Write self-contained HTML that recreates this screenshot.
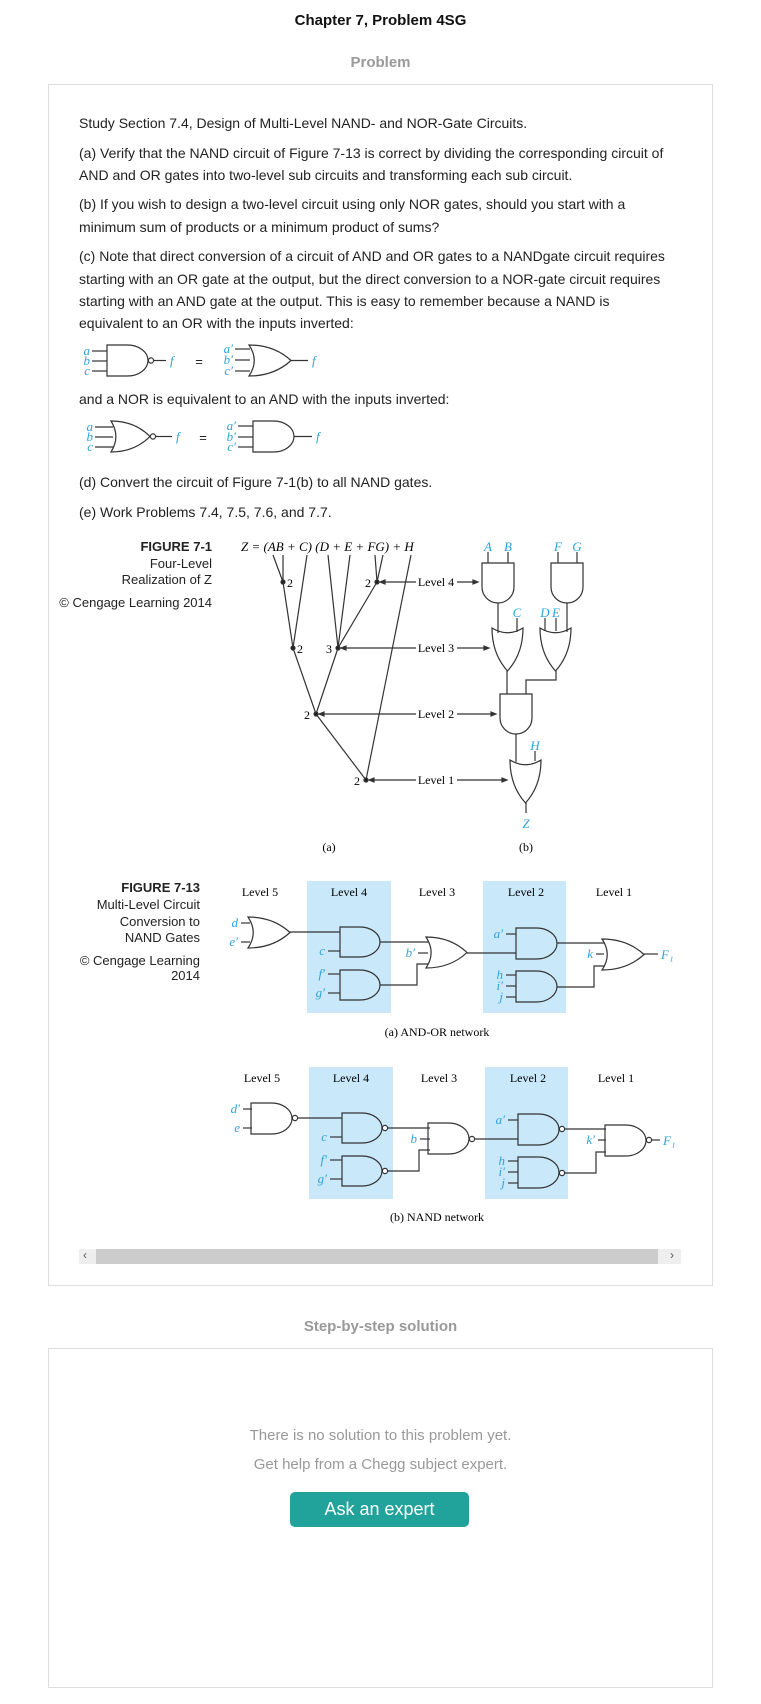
<!DOCTYPE html>
<html><head><meta charset="utf-8">
<style>
body{margin:0;width:761px;height:1704px;background:#fff;position:relative;font-family:"Liberation Sans",sans-serif;overflow:hidden}
.a{position:absolute;white-space:nowrap}
.p{position:absolute;left:79px;font-size:14px;color:#222;white-space:nowrap;line-height:16px}
.box{position:absolute;border:1px solid #ddd;box-sizing:border-box}
svg text{font-family:"Liberation Serif",serif}
.bl{fill:#2ea3dc;font-style:italic;font-size:13px}
.cap{font-family:"Liberation Sans",sans-serif !important;font-size:13px;fill:#222}
</style></head><body>
<div class="a" style="left:0;width:761px;top:12px;text-align:center;font-weight:bold;font-size:15px;color:#111">Chapter 7, Problem 4SG</div>
<div class="a" style="left:0;width:761px;top:54px;text-align:center;font-weight:bold;font-size:15px;color:#999">Problem</div>
<div class="box" style="left:48px;top:84px;width:665px;height:1202px"></div>
<div class="p" style="top:115px">Study Section 7.4, Design of Multi-Level NAND- and NOR-Gate Circuits.</div>
<div class="p" style="top:145px">(a) Verify that the NAND circuit of Figure 7-13 is correct by dividing the corresponding circuit of</div>
<div class="p" style="top:167px">AND and OR gates into two-level sub circuits and transforming each sub circuit.</div>
<div class="p" style="top:196px">(b) If you wish to design a two-level circuit using only NOR gates, should you start with a</div>
<div class="p" style="top:219px">minimum sum of products or a minimum product of sums?</div>
<div class="p" style="top:248px">(c) Note that direct conversion of a circuit of AND and OR gates to a NANDgate circuit requires</div>
<div class="p" style="top:271px">starting with an OR gate at the output, but the direct conversion to a NOR-gate circuit requires</div>
<div class="p" style="top:293px">starting with an AND gate at the output. This is easy to remember because a NAND is</div>
<div class="p" style="top:315px">equivalent to an OR with the inputs inverted:</div>
<div class="p" style="top:391px">and a NOR is equivalent to an AND with the inputs inverted:</div>
<div class="p" style="top:474px">(d) Convert the circuit of Figure 7-1(b) to all NAND gates.</div>
<div class="p" style="top:504px">(e) Work Problems 7.4, 7.5, 7.6, and 7.7.</div>

<svg id="fig" width="761" height="1290" style="position:absolute;left:0;top:0">
<g id="g" fill="none" stroke="#333" stroke-width="1.2"></g>
<g id="t"></g>
</svg>

<div class="a" style="left:79px;top:1249px;width:602px;height:15px;background:#eee"></div>
<div class="a" style="left:96px;top:1249px;width:562px;height:15px;background:#ccc"></div>
<div class="a" style="left:83px;top:1248px;font-size:12px;color:#555">&#8249;</div>
<div class="a" style="left:670px;top:1248px;font-size:12px;color:#555">&#8250;</div>

<div class="a" style="left:0;width:761px;top:1318px;text-align:center;font-weight:bold;font-size:15px;color:#999">Step-by-step solution</div>
<div class="box" style="left:48px;top:1348px;width:665px;height:340px"></div>
<div class="a" style="left:0;width:761px;top:1427px;text-align:center;font-size:15px;color:#999">There is no solution to this problem yet.</div>
<div class="a" style="left:0;width:761px;top:1456px;text-align:center;font-size:15px;color:#999">Get help from a Chegg subject expert.</div>
<div class="a" style="left:290px;top:1492px;width:179px;height:35px;background:#21a29a;border-radius:5px;color:#fff;font-size:18px;text-align:center;line-height:35px">Ask an expert</div>

<script>
var NS='http://www.w3.org/2000/svg',G=document.getElementById('g'),T=document.getElementById('t');
function el(tag,attrs,parent,name){var e=document.createElementNS(NS,tag);for(var k in attrs)e.setAttribute(k,attrs[k]);


(parent||G).appendChild(e);return e;}
function L(pts,name){el('polyline',{points:pts},G,name||'wire');}
function AND(x,y,w,h,n){el('path',{d:'M'+x+' '+y+'H'+(x+w/2)+'A'+(w/2)+' '+(h/2)+' 0 0 1 '+(x+w/2)+' '+(y+h)+'H'+x+'Z'},G,n||'and-gate');}
function OR(x,y,w,h,n){el('path',{d:'M'+x+' '+y+'Q'+(x+w*0.6)+' '+y+' '+(x+w)+' '+(y+h/2)+'Q'+(x+w*0.6)+' '+(y+h)+' '+x+' '+(y+h)+'Q'+(x+w*0.25)+' '+(y+h/2)+' '+x+' '+y+'Z'},G,n||'or-gate');}
function VAND(x,y,w,h,n){el('path',{d:'M'+x+' '+y+'V'+(y+h-w/2)+'A'+(w/2)+' '+(w/2)+' 0 0 0 '+(x+w)+' '+(y+h-w/2)+'V'+y+'Z'},G,n||'and-gate');}
function VOR(x,y,w,h,n){el('path',{d:'M'+x+' '+y+'Q'+(x+w/2)+' '+(y+h*0.22)+' '+(x+w)+' '+y+'Q'+(x+w)+' '+(y+h*0.6)+' '+(x+w/2)+' '+(y+h)+'Q'+x+' '+(y+h*0.6)+' '+x+' '+y+'Z'},G,n||'or-gate');}
function B(x,y){el('circle',{cx:x,cy:y,r:2.6,fill:'#fff'},G,'inversion-bubble');}
function D(x,y){el('circle',{cx:x,cy:y,r:2,fill:'#222'},G,'node-dot');}
function TX(x,y,s,cls,anchor,name,extra){var e=el('text',{x:x,y:y,'class':cls||'','text-anchor':anchor||'start'},T,name||'label');if(extra)for(var k in extra)e.setAttribute(k,extra[k]);e.textContent=s;return e;}
function IN(x,y,len,lab,name){L(x+','+y+' '+(x+len)+','+y);TX(x-2,y+4,lab,'bl','end',name);}

// inline gate equivalences
IN(92,351,15,'a','in-a');IN(92,361,15,'b','in-b');IN(92,371,15,'c','in-c');
AND(107,345,41,31,'nand-gate');B(151,360.5);L('154,360.5 166,360.5');TX(170,365,'f','bl','start','out-f');
TX(199,366,'=','cap','middle','equals',{'font-size':'15'});
IN(235,349,15,"a′",'in-a-prime');IN(235,360,15,"b′",'in-b-prime');IN(235,371,15,"c′",'in-c-prime');
OR(249,345,42,31,'or-gate');L('291,360.5 308,360.5');TX(312,365,'f','bl','start','out-f');
IN(95,427,18,'a','in-a');IN(95,437,18,'b','in-b');IN(95,447,18,'c','in-c');
OR(111,421,39,31,'nor-gate');B(153,436.5);L('156,436.5 172,436.5');TX(176,441,'f','bl','start','out-f');
TX(203,442,'=','cap','middle','equals',{'font-size':'15'});
IN(238,426,15,"a′",'in-a-prime');IN(238,437,15,"b′",'in-b-prime');IN(238,447,15,"c′",'in-c-prime');
AND(253,421,41,31,'and-gate');L('294,436.5 312,436.5');TX(316,441,'f','bl','start','out-f');

// Figure 7-1 caption
var cb={'font-family':'Liberation Sans, sans-serif','font-size':'12.5'};
TX(212,551,'FIGURE 7-1','cap','end','figure-7-1-title',{fill:'#29a8e0','font-weight':'bold'});
TX(212,568,'Four-Level','cap','end','figure-7-1-sub');
TX(212,584,'Realization of Z','cap','end','figure-7-1-sub2');
TX(212,607,'© Cengage Learning 2014','cap','end','copyright',{'font-size':'10'});
TX(241,551,'Z = (AB + C) (D + E + FG) + H','', 'start','equation',{'font-size':'13','font-style':'italic'});
// tree
var n4a=[283,582],n4b=[377,582],n3a=[293,648],n3b=[338,648],n2=[316,714],n1=[366,780];
function seg(a,b){L(a[0]+','+a[1]+' '+b[0]+','+b[1],'tree-branch');}
seg([273,555],n4a);seg([283,555],n4a);seg(n4a,n3a);seg([307,555],n3a);
seg([328,555],n3b);seg([350,555],n3b);seg([375,555],n4b);seg([383,555],n4b);seg(n4b,n3b);
seg(n3a,n2);seg(n3b,n2);seg(n2,n1);seg([411,555],n1);
[n4a,n4b,n3a,n3b,n2,n1].forEach(function(p){D(p[0],p[1]);});
TX(287,587,'2','','start','n4a-count',{'font-size':'12'});TX(371,587,'2','','end','n4b-count',{'font-size':'12'});
TX(297,653,'2','','start','n3a-count',{'font-size':'12'});TX(332,653,'3','','end','n3b-count',{'font-size':'12'});
TX(310,719,'2','','end','n2-count',{'font-size':'12'});TX(360,785,'2','','end','n1-count',{'font-size':'12'});
function lvl(y,x0,x1,s){L((x0+3)+','+y+' 416,'+y,'level-arrow');L('457,'+y+' '+(x1-2)+','+y,'level-arrow');
el('path',{d:'M'+x0+' '+y+'l5 -2v4z',fill:'#333'},G,'arrow-head');el('path',{d:'M'+x1+' '+y+'l-5 -2v4z',fill:'#333'},G,'arrow-head');
TX(436,y+4,s,'','middle','level-label',{'font-size':'12'});}
lvl(582,380,478,'Level 4');lvl(648,341,489,'Level 3');lvl(714,319,496,'Level 2');lvl(780,369,507,'Level 1');
// gates (b)
L('488,552 488,563');L('508,552 508,563');TX(488,551,'A','bl','middle','in-A');TX(508,551,'B','bl','middle','in-B');
VAND(482,563,32,40,'and-ab');
L('558,552 558,563');L('577,552 577,563');TX(558,551,'F','bl','middle','in-F');TX(577,551,'G','bl','middle','in-G');
VAND(551,563,32,40,'and-fg');
L('498,603 498,633');L('517,618 517,632');TX(517,617,'C','bl','middle','in-C');
VOR(492,628,31,43,'or-3a');
L('545,618 545,631');L('556,618 556,631');L('567,603 567,632');TX(545,617,'D','bl','middle','in-D');TX(556,617,'E','bl','middle','in-E');
VOR(540,628,31,43,'or-3b');
L('507,671 507,694');L('556,671 556,680 526,680 526,694');
VAND(500,694,32,40,'and-2');
L('516,734 516,762');L('535,751 535,761');TX(535,750,'H','bl','middle','in-H');
VOR(510,760,31,43,'or-1');
L('526,803 526,813');TX(526,828,'Z','bl','middle','out-Z');
TX(329,851,'(a)','','middle','sub-a',{'font-size':'12'});TX(526,851,'(b)','','middle','sub-b',{'font-size':'12'});

// Figure 7-13
TX(200,892,'FIGURE 7-13','cap','end','figure-7-13-title',{fill:'#29a8e0','font-weight':'bold'});
TX(200,909,'Multi-Level Circuit','cap','end','figure-7-13-sub');
TX(200,926,'Conversion to','cap','end','figure-7-13-sub2');
TX(200,942,'NAND Gates','cap','end','figure-7-13-sub3');
TX(200,965,'© Cengage Learning','cap','end','copyright',{'font-size':'10'});
TX(200,980,'2014','cap','end','copyright-year',{'font-size':'10'});
function net(dy,dx,nand){
 el('rect',{x:307+dx,y:881+dy,width:84,height:132,fill:'#c9e8fa',stroke:'none'},G,'level-4-band');
 el('rect',{x:483+dx,y:881+dy,width:83,height:132,fill:'#c9e8fa',stroke:'none'},G,'level-2-band');
 var lv=['Level 5','Level 4','Level 3','Level 2','Level 1'],cx=[260,349,437,526,614];
 for(var i=0;i<5;i++)TX(cx[i]+dx,896+dy,lv[i],'','middle','level-header',{'font-size':'12'});
 var X=function(v){return v+dx;},Y=function(v){return v+dy;};
 // level 5
 L(X(241)+','+Y(923)+' '+X(250)+','+Y(923));L(X(241)+','+Y(942)+' '+X(250)+','+Y(942));
 TX(X(238),Y(927),nand?"d′":'d','bl','end','in-d');TX(X(238),Y(946),nand?'e':"e′",'bl','end','in-e');
 if(nand){AND(X(249),Y(917),41,31,'nand-5');B(X(293),Y(932));}else OR(X(248),Y(917),42,31,'or-5');
 L(X(nand?296:290)+','+Y(932)+' '+X(340)+','+Y(932));
 AND(X(340),Y(927),40,30,'gate-4a');AND(X(340),Y(970),40,30,'gate-4b');
 L(X(328)+','+Y(951)+' '+X(340)+','+Y(951));TX(X(325),Y(955),'c','bl','end','in-c');
 L(X(328)+','+Y(974)+' '+X(340)+','+Y(974));TX(X(325),Y(978),"f′",'bl','end','in-f');
 L(X(328)+','+Y(993)+' '+X(340)+','+Y(993));TX(X(325),Y(997),"g′",'bl','end','in-g');
 var o=nand?6:0;if(nand){B(X(383),Y(942));B(X(383),Y(985));}
 L(X(380+o)+','+Y(942)+' '+X(428)+','+Y(942));
 L(X(380+o)+','+Y(985)+' '+X(417)+','+Y(985)+' '+X(417)+','+Y(964)+' '+X(428)+','+Y(964));
 L(X(418)+','+Y(953)+' '+X(428)+','+Y(953));TX(X(415),Y(957),nand?'b':"b′",'bl','end','in-b');
 if(nand){AND(X(426),Y(937),41,31,'nand-3');B(X(470),Y(953));}else OR(X(426),Y(937),41,31,'or-3');
 L(X(467+o)+','+Y(953)+' '+X(516)+','+Y(953));
 AND(X(516),Y(928),41,31,'gate-2a');AND(X(516),Y(971),41,31,'gate-2b');
 L(X(506)+','+Y(934)+' '+X(516)+','+Y(934));TX(X(503),Y(938),"a′",'bl','end','in-a');
 L(X(506)+','+Y(975)+' '+X(516)+','+Y(975));TX(X(503),Y(979),'h','bl','end','in-h');
 L(X(506)+','+Y(986)+' '+X(516)+','+Y(986));TX(X(503),Y(990),"i′",'bl','end','in-i');
 L(X(506)+','+Y(997)+' '+X(516)+','+Y(997));TX(X(503),Y(1001),'j','bl','end','in-j');
 if(nand){B(X(560),Y(943));B(X(560),Y(987));}
 L(X(557+o)+','+Y(943)+' '+X(604)+','+Y(943));
 L(X(557+o)+','+Y(987)+' '+X(594)+','+Y(987)+' '+X(594)+','+Y(966)+' '+X(604)+','+Y(966));
 L(X(596)+','+Y(954)+' '+X(604)+','+Y(954));TX(X(593),Y(958),nand?"k′":'k','bl','end','in-k');
 if(nand){AND(X(603),Y(939),41,31,'nand-1');B(X(647),Y(954));}else OR(X(602),Y(939),42,31,'or-1');
 L(X(644+o)+','+Y(954)+' '+X(658)+','+Y(954));TX(X(661),Y(959),'F₁','bl','start','out-F1');
}
net(0,0,false);
TX(437,1036,'(a) AND-OR network','','middle','caption-and-or',{'font-size':'12'});
net(186,2,true);
TX(437,1221,'(b) NAND network','','middle','caption-nand',{'font-size':'12'});
</script>
</body></html>
